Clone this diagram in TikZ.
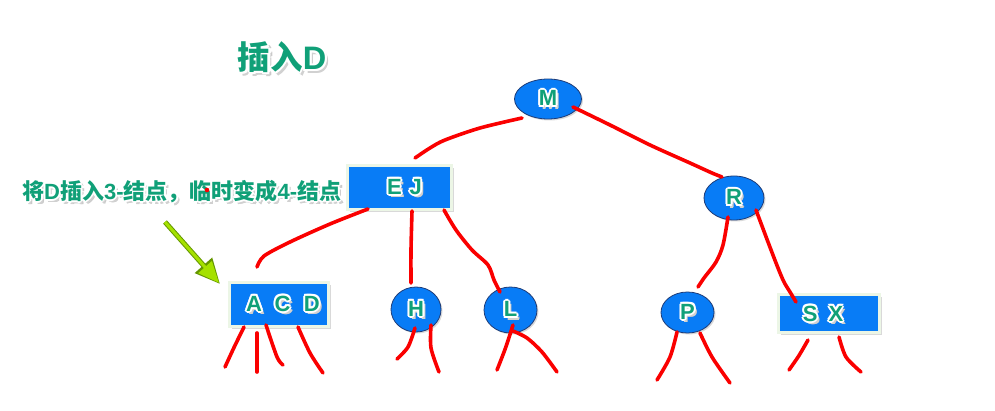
\documentclass[tikz,border=0pt]{standalone}
\usepackage{fontspec}
\usetikzlibrary{shapes.geometric,shadows,arrows.meta}

\newfontfamily\latinface{Liberation Sans}
\newfontfamily\cjkface{Noto Sans CJK SC}

\definecolor{nodeblue}{RGB}{8,124,246}
\definecolor{ringnavy}{RGB}{30,60,120}
\definecolor{keygreen}{RGB}{16,160,120}
\definecolor{framepale}{RGB}{236,246,230}
\definecolor{pointerlime}{RGB}{165,225,0}
\definecolor{pointerdark}{RGB}{100,150,0}
\definecolor{linkred}{RGB}{250,0,0}

% text with a white outline and a soft grey shadow
\newcommand\halocopy[3]{\rlap{\kern#1\raise#2\hbox{\color{#3}\copy0}}}
\newcommand\halotext[3]{\begingroup\setbox0=\hbox{#3}%
  \halocopy{\dimexpr#1+1pt\relax}{\dimexpr-#1-1pt\relax}{black!22}%
  \halocopy{\dimexpr#1+0.5pt\relax}{\dimexpr-#1-1.5pt\relax}{black!18}%
  \halocopy{#1}{0pt}{white}\halocopy{-#1}{0pt}{white}%
  \halocopy{0pt}{#1}{white}\halocopy{0pt}{-#1}{white}%
  \halocopy{#2}{#2}{white}\halocopy{-#2}{#2}{white}%
  \halocopy{#2}{-#2}{white}\halocopy{-#2}{-#2}{white}%
  \hbox{\color{keygreen}\copy0}\endgroup}
\newcommand\keytext[1]{\halotext{2pt}{1.4pt}{\latinface\bfseries\fontsize{22pt}{24pt}\selectfont#1}}

\tikzset{
  keyellipse/.style={ellipse, fill=nodeblue, draw=ringnavy, line width=0.8pt, inner sep=0pt,
    drop shadow={shadow xshift=1.5pt, shadow yshift=-1.5pt, opacity=.3}},
  keybox/.style={rectangle, fill=nodeblue, draw=framepale, line width=3pt, inner sep=0pt,
    drop shadow={shadow xshift=2.5pt, shadow yshift=-2.5pt, opacity=.3}},
  keys/.style={inner sep=0pt},
  link/.style={draw=linkred, line width=3.6pt, line cap=round, line join=round},
}

\begin{document}
\begin{tikzpicture}[x=1pt,y=-1pt]
\useasboundingbox (0,0) rectangle (995,411);

% title and note
\node (title) at (282,58) {\halotext{2.3pt}{1.6pt}{\bfseries\fontsize{32.5pt}{34pt}\selectfont\cjkface 插入\latinface D}};
\node[anchor=west, inner sep=0pt] (note) at (22,192)
  {\halotext{2pt}{1.4pt}{\bfseries\fontsize{22pt}{24pt}\selectfont\cjkface 将\latinface D\cjkface 插入\latinface 3-\cjkface 结点，临时变成\latinface 4-\cjkface 结点}};
\fill[linkred] (207,190) circle (2.3);

% tree nodes
\node[keyellipse, minimum width=67pt, minimum height=40pt] (M) at (548,99) {};
\node[keys] (Mt) at (M.center) {\keytext{M}};
\node[keybox, minimum width=104pt, minimum height=44pt] (EJ) at (399.5,187.5) {};
\node[keys] (EJt) at ([shift={(5,0)}]EJ.center) {\keytext{E\hspace{8pt}J}};
\node[keyellipse, minimum width=60pt, minimum height=44pt] (R) at (734,198) {};
\node[keys] (Rt) at (R.center) {\keytext{R}};
\node[keybox, minimum width=99pt, minimum height=43pt] (ACD) at (279,304.5) {};
\node[keys] (ACDt) at ([shift={(4,0)}]ACD.center) {\keytext{A\hspace{12.5pt}C\hspace{13.5pt}D}};
\node[keyellipse, minimum width=50pt, minimum height=45pt] (H) at (416,309.5) {};
\node[keys] (Ht) at (H.center) {\keytext{H}};
\node[keyellipse, minimum width=53pt, minimum height=46pt] (L) at (510.5,310) {};
\node[keys] (Lt) at (L.center) {\keytext{L}};
\node[keyellipse, minimum width=53pt, minimum height=41pt] (P) at (687.5,312.5) {};
\node[keys] (Pt) at (P.center) {\keytext{P}};
\node[keybox, minimum width=101pt, minimum height=38pt] (SX) at (829,313.5) {};
\node[keys] (SXt) at ([shift={(-6,1)}]SX.center) {\keytext{S\hspace{11pt}X}};

% hand-drawn links between nodes
\draw[link] plot[smooth, tension=0.5] coordinates
  {([shift={(-26,19)}]M.center) (480,128) (445,140) (430,148) ([shift={(15.5,-29.5)}]EJ.center)};
\draw[link] plot[smooth, tension=0.5] coordinates
  {([shift={(25,8)}]M.center) (610,125) (650,145) (690,163) (712,173) ([shift={(-12,-21)}]R.center)};
\draw[link] plot[smooth, tension=0.5] coordinates
  {([shift={(-31.5,21.5)}]EJ.center) (330,224) (290,242) (264,256) ([shift={(-22,-37.5)}]ACD.center)};
\draw[link] plot[smooth, tension=0.5] coordinates
  {([shift={(12.5,23.5)}]EJ.center) (411,250) ([shift={(-5,-26.5)}]H.center)};
\draw[link] plot[smooth, tension=0.5] coordinates
  {([shift={(44.5,22.5)}]EJ.center) (456,230) (472,250) (488,265) (494,280) ([shift={(-10.5,-18)}]L.center)};
\draw[link] plot[smooth, tension=0.5] coordinates
  {([shift={(-6,19)}]R.center) (723,245) (716,262) (704,278) ([shift={(10.5,-25.5)}]P.center)};
\draw[link] plot[smooth, tension=0.5] coordinates
  {([shift={(22,12)}]R.center) (768,242) (778,268) (784,282) (790,292) ([shift={(-33,-11.5)}]SX.center)};

% dangling child links
\begin{scope}[shift={(ACD.center)}]
  \draw[link] plot[smooth] coordinates {(-35,22.5) (-45,43) (-54,62.5)};
  \draw[link] plot[smooth] coordinates {(-22,28.5) (-22,67.5)};
  \draw[link] plot[smooth] coordinates {(-13,20.5) (-2,52.5) (4,60.5)};
  \draw[link] plot[smooth] coordinates {(19,22.5) (31,48.5) (44,68.5)};
\end{scope}
\begin{scope}[shift={(H.center)}]
  \draw[link] plot[smooth] coordinates {(-1,18.5) (-8,37.5) (-19,49.5)};
  \draw[link] plot[smooth] coordinates {(15,15.5) (15,38.5) (23,62.5)};
\end{scope}
\begin{scope}[shift={(L.center)}]
  \draw[link] plot[smooth] coordinates {(2.5,15) (-5,38) (-13.5,60)};
  \draw[link] plot[smooth] coordinates {(2.5,21) (16.5,28) (31.5,42) (46.5,62)};
\end{scope}
\begin{scope}[shift={(P.center)}]
  \draw[link] plot[smooth] coordinates {(-10.5,19.5) (-17.5,44.5) (-30.5,67.5)};
  \draw[link] plot[smooth] coordinates {(12.5,20.5) (24.5,44.5) (42.5,70.5)};
\end{scope}
\begin{scope}[shift={(SX.center)}]
  \draw[link] plot[smooth] coordinates {(-21,26.5) (-30,42) (-40,56.5)};
  \draw[link] plot[smooth] coordinates {(10,23.5) (17,43.5) (32,58.5)};
\end{scope}

% pointer from the note to the overfull node
\coordinate (ptrtail) at (165,222);
\coordinate (ptrtip) at ([shift={(-59,-20.5)}]ACD.center);
\draw[draw=pointerdark, line width=5pt, -{Triangle[width=22pt,length=25pt]}] (ptrtail) -- (ptrtip);
\draw[draw=pointerlime, line width=3pt, shorten >=1.6pt, -{Triangle[width=17.5pt,length=21pt]}] (ptrtail) -- (ptrtip);
\end{tikzpicture}
\end{document}
